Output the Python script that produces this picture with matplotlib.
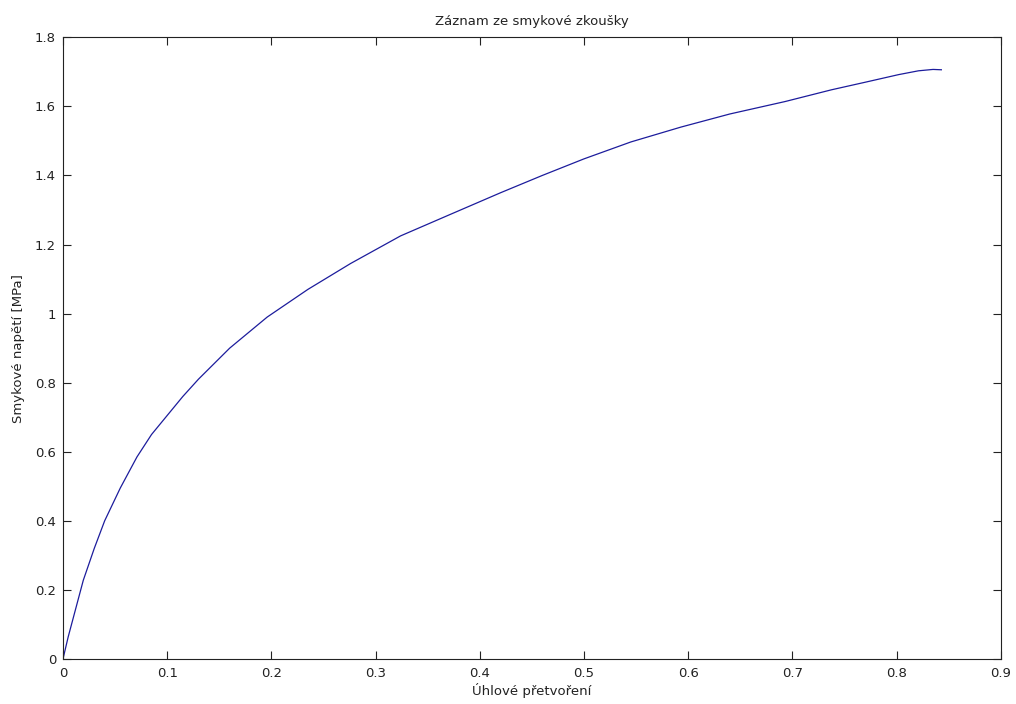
import matplotlib
matplotlib.use("Agg")
import matplotlib.pyplot as plt
import numpy as np

# Záznam ze smykové zkoušky
uhel = [0.0, 0.005, 0.0195, 0.030, 0.040, 0.055, 0.071, 0.085, 0.100, 0.115,
        0.130, 0.160, 0.196, 0.235, 0.276, 0.324, 0.370, 0.420, 0.460, 0.500,
        0.545, 0.593, 0.640, 0.693, 0.7375, 0.770, 0.802, 0.821, 0.835, 0.843]
napeti = [0.0, 0.064, 0.228, 0.32, 0.40, 0.495, 0.585, 0.65, 0.705, 0.76,
          0.81, 0.90, 0.99, 1.07, 1.145, 1.225, 1.285, 1.35, 1.40, 1.448,
          1.497, 1.540, 1.578, 1.614, 1.648, 1.670, 1.692, 1.703, 1.707, 1.706]

plt.rcParams['font.family'] = ['DejaVu Sans']
plt.rcParams['font.size'] = 9.5

fig = plt.figure(figsize=(10.16, 7.04), dpi=100)
ax = fig.add_axes([0.062, 0.064, 0.923, 0.883])

ax.plot(uhel, napeti, color='#1c1c9c', linewidth=0.9)

ax.set_xlim(0, 0.9)
ax.set_ylim(0, 1.8)
ax.set_xticks(np.arange(0, 0.91, 0.1))
ax.set_yticks(np.arange(0, 1.81, 0.2))
ax.set_xticklabels(['0', '0.1', '0.2', '0.3', '0.4', '0.5', '0.6', '0.7', '0.8', '0.9'])
ax.set_yticklabels(['0', '0.2', '0.4', '0.6', '0.8', '1', '1.2', '1.4', '1.6', '1.8'])
ax.tick_params(direction='in', top=True, right=True, length=6, width=0.8, colors='#222222')
ax.tick_params(axis='x', pad=6)
ax.tick_params(axis='y', pad=5)
for s in ax.spines.values():
    s.set_linewidth(0.8)
    s.set_color('#222222')

ax.set_title('Záznam ze smykové zkoušky', fontsize=9.5, pad=9, color='#222222')
ax.set_xlabel('Úhlové přetvoření', labelpad=2, color='#222222')
ax.set_ylabel('Smykové napětí [MPa]', labelpad=7, color='#222222')

fig.savefig('out.png', dpi=100)
